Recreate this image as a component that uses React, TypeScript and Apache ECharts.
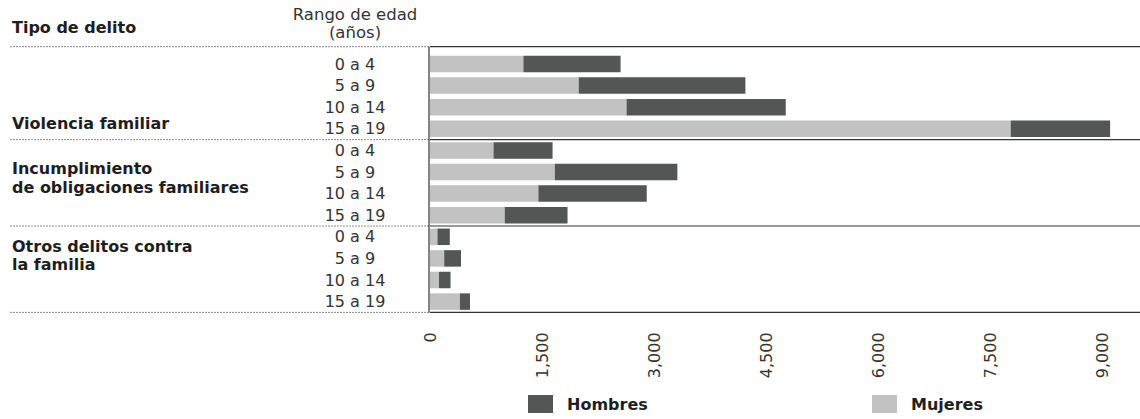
import React, { useEffect, useRef } from "react";
import * as echarts from "echarts";

const crimeGroups = ["Violencia familiar", "Incumplimiento de obligaciones familiares", "Otros delitos contra la familia"];
const ageRanges = ["0 a 4", "5 a 9", "10 a 14", "15 a 19"];
// values per (group, age range), in row order
const mujeres = [1250, 1990, 2630, 7770, 850, 1670, 1450, 1000, 100, 190, 120, 400];
const hombres = [1300, 2230, 2130, 1330, 790, 1640, 1450, 840, 165, 225, 155, 135];
const xTicks = [0, 1500, 3000, 4500, 6000, 7500, 9000];

const W = 1140;
const H = 419;
const GRID_LEFT = 430;
const GRID_TOP = 53.2;
const GRID_H = 259.2;
const FONT = "DejaVu Sans";

export default function App() {
  const ref = useRef<HTMLDivElement>(null);
  useEffect(() => {
    document.body.style.margin = "0";
    if (!ref.current) return;
    const chart = echarts.init(ref.current, undefined, { renderer: "svg" });
    const cats: string[] = [];
    crimeGroups.forEach((g) => ageRanges.forEach((a) => cats.push(g + "|" + a)));
    const band = GRID_H / cats.length;
    const yAt = (i: number) => GRID_TOP + i * band;
    const hLines = [GRID_TOP - 6.5, yAt(4), yAt(8), yAt(12)];
    const graphics: any[] = [];
    hLines.forEach((y) => {
      graphics.push({
        type: "line",
        shape: { x1: 10, y1: y, x2: GRID_LEFT, y2: y },
        style: { stroke: "#8a8a8a", lineWidth: 1, lineDash: [2, 1] },
        silent: true,
      });
      graphics.push({
        type: "line",
        shape: { x1: GRID_LEFT, y1: y, x2: W, y2: y },
        style: { stroke: "#333", lineWidth: 1.2 },
        silent: true,
      });
    });
    graphics.push({
      type: "line",
      shape: { x1: GRID_LEFT - 1, y1: hLines[0], x2: GRID_LEFT - 1, y2: hLines[3] },
      style: { stroke: "#333", lineWidth: 1.2 },
      silent: true,
    });
    const txt = (text: string, x: number, y: number, bold: boolean, align = "left", size = 16) => ({
      type: "text",
      x,
      y,
      style: {
        text,
        fontFamily: FONT,
        fontSize: size,
        fontWeight: bold ? "bold" : "normal",
        fill: bold ? "#1e1e1e" : "#333",
        align,
        verticalAlign: "middle",
      },
      silent: true,
    });
    graphics.push(txt("Tipo de delito", 12, 27, true));
    graphics.push(txt("Rango de edad", 355, 14, false, "center", 16.5));
    graphics.push(txt("(años)", 355, 32, false, "center", 16.5));
    graphics.push(txt("Violencia familiar", 12, 123, true));
    graphics.push(txt("Incumplimiento", 12, 168, true));
    graphics.push(txt("de obligaciones familiares", 12, 187, true));
    graphics.push(txt("Otros delitos contra", 12, 246, true));
    graphics.push(txt("la familia", 12, 264, true));

    const legendBase = {
      top: 390,
      itemWidth: 25,
      itemHeight: 18,
      icon: "rect",
      selectedMode: false,
      textStyle: { fontFamily: FONT, fontWeight: "bold", fontSize: 16, color: "#1e1e1e", padding: [0, 0, 0, 9] },
    };

    chart.setOption({
      animation: false,
      grid: { left: GRID_LEFT, top: GRID_TOP, width: W - GRID_LEFT + 1, height: GRID_H, containLabel: false },
      xAxis: {
        type: "value",
        min: 0,
        max: 9500,
        interval: 1500,
        axisLine: { show: false },
        axisTick: { show: false },
        splitLine: { show: false },
        axisLabel: {
          rotate: 90,
          margin: 20,
          showMaxLabel: false,
          fontFamily: FONT,
          fontSize: 16,
          color: "#333",
          formatter: (v: number) => (xTicks.includes(v) ? v.toLocaleString("en-US") : ""),
        },
      },
      yAxis: {
        type: "category",
        inverse: true,
        data: cats,
        axisLine: { show: false },
        axisTick: { show: false },
        axisLabel: {
          interval: 0,
          align: "center",
          margin: 75,
          fontFamily: FONT,
          fontSize: 16,
          color: "#333",
          formatter: (v: string) => v.split("|")[1],
        },
      },
      legend: [
        { ...legendBase, left: 523, data: ["Hombres"] },
        { ...legendBase, left: 867, data: ["Mujeres"] },
      ],
      series: [
        {
          name: "Mujeres",
          type: "bar",
          stack: "total",
          barWidth: 16.5,
          data: mujeres,
          itemStyle: { color: "#c2c2c2" },
        },
        {
          name: "Hombres",
          type: "bar",
          stack: "total",
          barWidth: 16.5,
          data: hombres,
          itemStyle: { color: "#535654" },
        },
      ],
      graphic: graphics,
    });
    return () => chart.dispose();
  }, []);
  return <div ref={ref} style={{ width: W, height: H }} />;
}
